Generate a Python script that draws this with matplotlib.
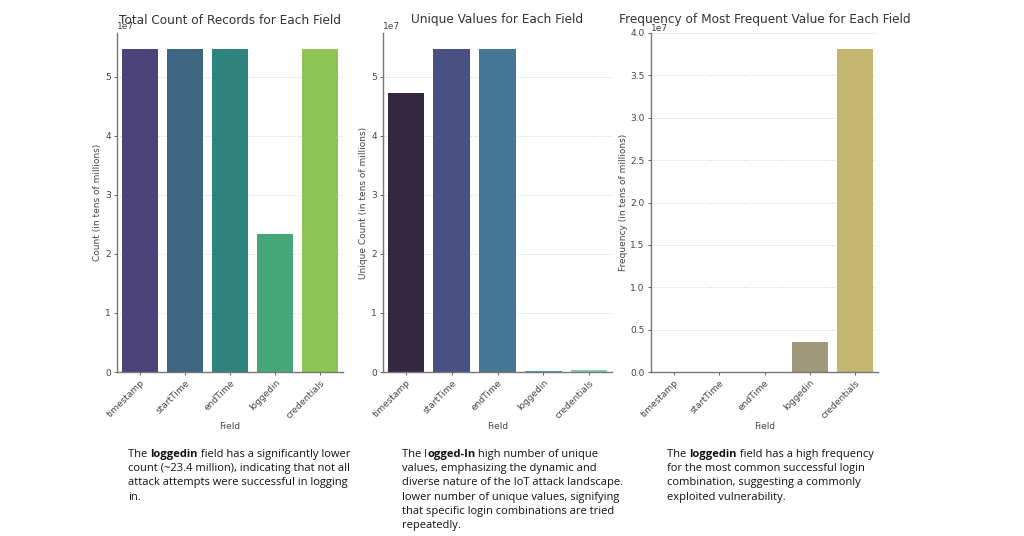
import matplotlib
matplotlib.use("Agg")
import matplotlib.pyplot as plt
import seaborn as sns

# data
fields = ["timestamp", "startTime", "endTime", "loggedin", "credentials"]
total_counts = [5.47e7, 5.47e7, 5.47e7, 2.34e7, 5.47e7]
unique_counts = [4.72e7, 5.47e7, 5.47e7, 2.0e5, 3.0e5]
top_freq = [1, 1, 1, 3.55e6, 3.81e7]

titles = ["Total Count of Records for Each Field",
          "Unique Values for Each Field",
          "Frequency of Most Frequent Value for Each Field"]
ylabels = ["Count (in tens of millions)",
           "Unique Count (in tens of millions)",
           "Frequency (in tens of millions)"]
palettes = ["viridis", "mako", "cividis"]

# captions: list of lines, each line a list of (text, bold) pieces
captions = [
    [[("The ", False), ("loggedin", True), (" field has a significantly lower", False)],
     [("count (~23.4 million), indicating that not all", False)],
     [("attack attempts were successful in logging", False)],
     [("in.", False)]],
    [[("The l", False), ("ogged-In", True), (" high number of unique", False)],
     [("values, emphasizing the dynamic and", False)],
     [("diverse nature of the IoT attack landscape.", False)],
     [("lower number of unique values, signifying", False)],
     [("that specific login combinations are tried", False)],
     [("repeatedly.", False)]],
    [[("The ", False), ("loggedin", True), (" field has a high frequency", False)],
     [("for the most common successful login", False)],
     [("combination, suggesting a commonly", False)],
     [("exploited vulnerability.", False)]],
]

fig = plt.figure(figsize=(10.24, 5.36), dpi=100)
W, H = 1024, 536
boxes = [(117, 343), (383, 612), (651, 878)]
top_px, bot_px = 33, 372

series = [total_counts, unique_counts, top_freq]
for i, (x0, x1) in enumerate(boxes):
    ax = fig.add_axes([x0 / W, (H - bot_px) / H, (x1 - x0) / W, (bot_px - top_px) / H])
    cols = sns.color_palette(palettes[i], 5, desat=0.75)
    ax.bar(range(5), series[i], width=0.8, color=cols, zorder=2)
    ax.set_xlim(-0.5, 4.5)
    if i == 2:
        ax.set_ylim(0, 4.0e7)
        ax.set_yticks([v * 1e7 for v in [0, 0.5, 1, 1.5, 2, 2.5, 3, 3.5, 4]])
        ax.set_yticklabels(["0.0", "0.5", "1.0", "1.5", "2.0", "2.5", "3.0", "3.5", "4.0"])
        ax.text(0, 1.0, "1e7", transform=ax.transAxes, fontsize=6.5, color="#444444",
                ha="left", va="bottom")
    ax.set_xticks(range(5))
    ax.set_xticklabels(fields, rotation=45, ha="right", rotation_mode="anchor")
    ax.tick_params(labelsize=6.5, colors="#444444", length=2.5, width=0.6, pad=2)
    ax.yaxis.get_offset_text().set_fontsize(6.5)
    ax.yaxis.get_offset_text().set_color("#444444")
    ax.grid(axis="y", linestyle=":", color="#d0d0d0", linewidth=0.7, zorder=0)
    for s in ["top", "right"]:
        ax.spines[s].set_visible(False)
    for s in ["left", "bottom"]:
        ax.spines[s].set_color("#777777")
        ax.spines[s].set_linewidth(1.0)
    # titles all sit on the same line, across the offset text
    fig.text((x0 + x1) / 2 / W, 1 - 20 / H, titles[i], fontsize=8.7, color="#333333",
             ha="center", va="center")
    ax.set_xlabel("Field", fontsize=6.5, color="#444444", labelpad=1)
    ax.set_ylabel(ylabels[i], fontsize=6.5, color="#444444", labelpad=2)

# captions below each chart, with inline bold words
renderer = fig.canvas.get_renderer()
cap_x = [128, 402, 667]
line_h = 14.2
for i, lines in enumerate(captions):
    y = 457
    for line in lines:
        x = cap_x[i]
        for txt, bold in line:
            t = fig.text(x / W, 1 - y / H, txt, fontsize=8.0, family="Open Sans",
                         fontweight="bold" if bold else "normal", color="#111111",
                         ha="left", va="baseline")
            bb = t.get_window_extent(renderer=renderer)
            x += bb.width
        y += line_h

fig.savefig("out.png", dpi=100)
